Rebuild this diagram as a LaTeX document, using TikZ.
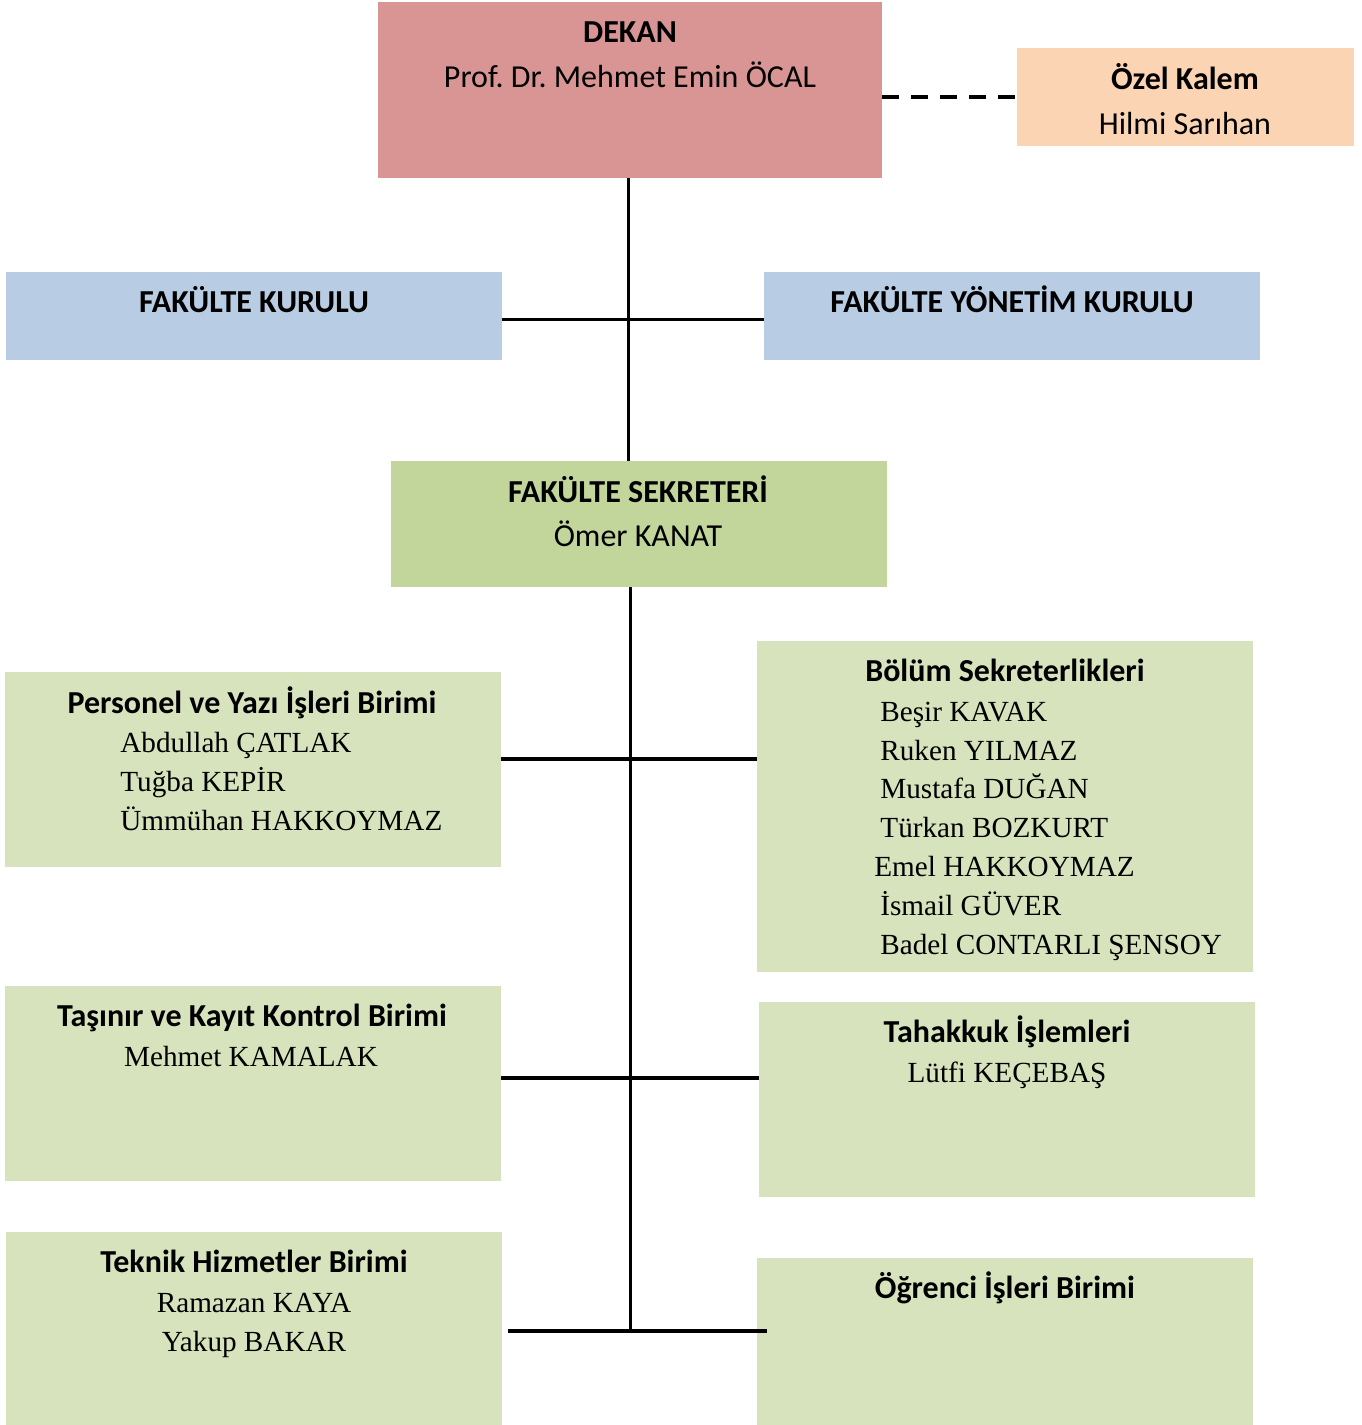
\documentclass[tikz,border=0pt]{standalone}
\usepackage{fontspec}
\setmainfont{Carlito}
\newfontfamily\timesfont{Liberation Serif}
\usetikzlibrary{positioning}
\frenchspacing

\definecolor{dekanpembe}{HTML}{D99594}
\definecolor{kalemten}{HTML}{FBD4B4}
\definecolor{kurulmavi}{HTML}{B8CCE4}
\definecolor{sekreteryesil}{HTML}{C2D69B}
\definecolor{birimyesil}{HTML}{D7E3BC}

\tikzset{
  kutu/.style={rectangle, inner sep=0pt, minimum width=248pt},
  baslik/.style={anchor=base, inner sep=0pt, font=\fontsize{16}{19}\selectfont\bfseries},
  altyazi/.style={anchor=base, inner sep=0pt, font=\fontsize{16}{19}\selectfont},
  isimler/.style={anchor=base west, inner sep=0pt, align=left, font=\timesfont\fontsize{14.6}{19.4}\selectfont},
  isim/.style={anchor=base, inner sep=0pt, font=\timesfont\fontsize{14.6}{19.4}\selectfont},
  hat/.style={line width=1.5pt},
  kalinhat/.style={line width=2pt}
}

\begin{document}
\begin{tikzpicture}[x=0.5pt, y=-0.5pt]
  \useasboundingbox (0,0) rectangle (1361,1425);
  % kutular
  \node [kutu, fill=dekanpembe, minimum width=252pt, minimum height=88pt] (dekan) at (630,90) {};
  \node [kutu, fill=kalemten, minimum width=168.5pt, minimum height=49pt] (kalem) at (1185.5,97) {};
  \node [kutu, fill=kurulmavi, minimum height=44pt] (kurul) at (254,316) {};
  \node [kutu, fill=kurulmavi, minimum height=44pt] (yonetim) at (1012,316) {};
  \node [kutu, fill=sekreteryesil, minimum height=63pt] (sekreter) at (639,524) {};
  \node [kutu, fill=birimyesil, minimum height=97.5pt] (personel) at (253,769.5) {};
  \node [kutu, fill=birimyesil, minimum height=165.5pt] (bolum) at (1005,806.5) {};
  \node [kutu, fill=birimyesil, minimum height=97.5pt] (tasinir) at (253,1083.5) {};
  \node [kutu, fill=birimyesil, minimum height=97.5pt] (tahakkuk) at (1007,1099.5) {};
  \node [kutu, fill=birimyesil, minimum height=96.5pt] (teknik) at (254,1328.5) {};
  \node [kutu, fill=birimyesil, minimum height=83.5pt] (ogrenci) at (1005,1341.5) {};

  % yazilar
  \node [baslik] (dekanb) at (630,42) {DEKAN};
  \node [altyazi] (dekana) at (630,87) {Prof. Dr. Mehmet Emin ÖCAL};
  \node [baslik] (kalemb) at (1185,89) {Özel Kalem};
  \node [altyazi] (kalema) at (1185,134) {Hilmi Sarıhan};
  \node [baslik] (kurulb) at (254,312) {FAKÜLTE KURULU};
  \node [baslik] (yonetimb) at (1012,312) {FAKÜLTE YÖNETİM KURULU};
  \node [baslik] (sekreterb) at (638,502) {FAKÜLTE SEKRETERİ};
  \node [altyazi] (sekretera) at (638,546) {Ömer KANAT};
  \node [baslik] (personelb) at (252,713) {Personel ve Yazı İşleri Birimi};
  \node [isimler] (personela) at (120,830) {Abdullah ÇATLAK\\Tuğba KEPİR\\Ümmühan HAKKOYMAZ};
  \node [baslik] (bolumb) at (1005,681) {Bölüm Sekreterlikleri};
  \node [isimler] (boluma) at (880,954) {Beşir KAVAK\\Ruken YILMAZ\\Mustafa DUĞAN\\Türkan BOZKURT\\\hspace*{-3pt}Emel HAKKOYMAZ\\İsmail GÜVER\\Badel CONTARLI ŞENSOY};
  \node [baslik] (tasinirb) at (252,1026) {Taşınır ve Kayıt Kontrol Birimi};
  \node [isim] (tasinira) at (251,1066) {Mehmet KAMALAK};
  \node [baslik] (tahakkukb) at (1007,1042) {Tahakkuk İşlemleri};
  \node [isim] (tahakkuka) at (1007,1082) {Lütfi KEÇEBAŞ};
  \node [baslik] (teknikb) at (254,1272) {Teknik Hizmetler Birimi};
  \node [isim] (teknika) at (254,1312) {Ramazan KAYA};
  \node [isim] (teknikc) at (254,1351) {Yakup BAKAR};
  \node [baslik] (ogrencib) at (1005,1298) {Öğrenci İşleri Birimi};

  % baglantilar
  \coordinate (ust) at (628,319);
  \coordinate (h1) at (630,759);
  \coordinate (h2) at (630,1078);
  \coordinate (h3) at (630,1331);
  \draw [line width=2pt, dash pattern=on 8.5pt off 6pt] (dekan.east |- kalem) -- (kalem.west);
  \draw [hat] (dekan.south -| ust) -- (sekreter.north -| ust);
  \draw [hat] (kurul.east |- ust) -- (yonetim.west |- ust);
  \draw [hat] (sekreter.south -| h3) -- (h3);
  \draw [kalinhat] (personel.east |- h1) -- (bolum.west |- h1);
  \draw [kalinhat] (tasinir.east |- h2) -- (tahakkuk.west |- h2);
  \draw [kalinhat] ([xshift=3pt]teknik.east |- h3) -- ([xshift=5pt]ogrenci.west |- h3);
\end{tikzpicture}
\end{document}
